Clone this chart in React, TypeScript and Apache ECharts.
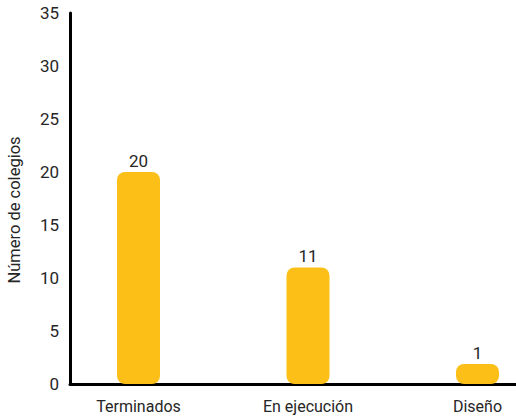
import React, { useEffect, useRef } from "react";
import * as echarts from "echarts";

const categories = ["Terminados", "En ejecución", "Diseño"];
const values = [20, 11, 1];
const yMin = 0;
const yMax = 35;
const yInterval = 5;
const yTitle = "Número de colegios";

const FONT = "Roboto, 'Liberation Sans', sans-serif";
const TEXT = "#262626";

export default function App() {
  const ref = useRef<HTMLDivElement>(null);
  useEffect(() => {
    if (!ref.current) return;
    const chart = echarts.init(ref.current, undefined, { renderer: "svg" });
    chart.setOption({
      animation: false,
      backgroundColor: "#ffffff",
      grid: [
        { left: 70, right: 0, top: 13, bottom: 35, containLabel: false, outerBoundsMode: "none" },
        { left: 53.75, width: 508.5, top: 13, bottom: 35, containLabel: false, outerBoundsMode: "none" },
      ],
      graphic: [
        {
          type: "text",
          x: 14,
          y: 210,
          rotation: Math.PI / 2,
          style: {
            text: yTitle,
            fontSize: 16.5,
            fontFamily: FONT,
            fill: TEXT,
            textAlign: "center",
            textVerticalAlign: "middle",
          },
        },
      ],
      xAxis: [
        {
          type: "category",
          gridIndex: 0,
          data: [""],
          axisLine: { show: true, lineStyle: { color: "#000", width: 3 } },
          axisTick: { show: false },
          axisLabel: { show: false },
        },
        {
          type: "category",
          gridIndex: 1,
          data: categories,
          axisLine: { show: false },
          axisTick: { show: false },
          axisLabel: {
            margin: 14,
            fontSize: 16,
            fontFamily: FONT,
            color: TEXT,
          },
        },
      ],
      yAxis: [
        {
          type: "value",
          gridIndex: 0,
          min: yMin,
          max: yMax,
          interval: yInterval,
          axisLine: { show: true, lineStyle: { color: "#000", width: 3 } },
          axisTick: { show: false },
          splitLine: { show: false },
          axisLabel: { margin: 11, fontSize: 17, fontFamily: FONT, color: TEXT },
        },
        {
          type: "value",
          gridIndex: 1,
          min: yMin,
          max: yMax,
          interval: yInterval,
          show: false,
          splitLine: { show: false },
        },
      ],
      series: [
        {
          type: "bar",
          xAxisIndex: 1,
          yAxisIndex: 1,
          data: values,
          barWidth: 43,
          barMinHeight: 20,
          itemStyle: { color: "#FBBF17", borderRadius: 8 },
          label: {
            show: true,
            position: "top",
            distance: 3,
            fontSize: 17,
            fontFamily: FONT,
            color: TEXT,
          },
        },
      ],
    });
    return () => chart.dispose();
  }, []);
  return (
    <div
      ref={ref}
      style={{ position: "fixed", left: 0, top: 0, width: 516, height: 419 }}
    />
  );
}
